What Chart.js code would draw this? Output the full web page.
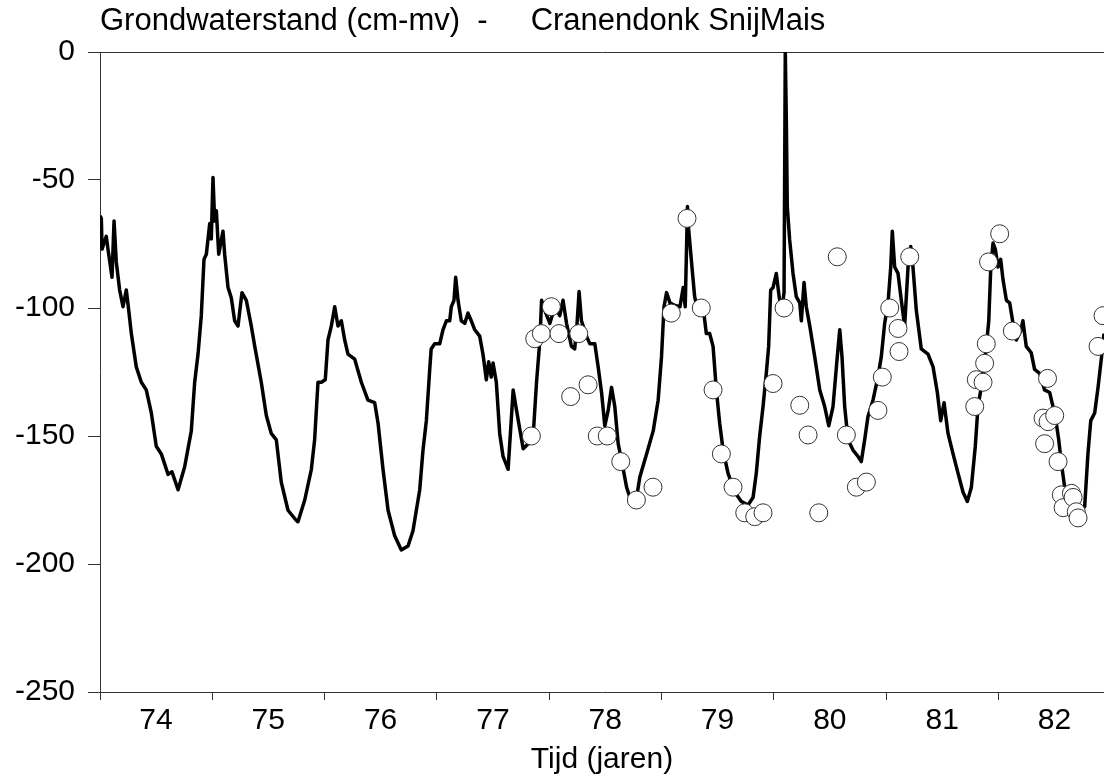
<!DOCTYPE html>
<html><head><meta charset="utf-8">
<script src="https://cdn.jsdelivr.net/npm/chart.js@4.4.1/dist/chart.umd.min.js"></script>
<style>html,body{margin:0;padding:0;background:#fff}#wrap{width:1104px;height:782px;position:relative}</style>
</head><body><div id="wrap"><canvas id="c"></canvas></div>
<script>
const titleText = 'Grondwaterstand (cm-mv)  -     Cranendonk SnijMais';
const xAxisTitle = 'Tijd (jaren)';
const yearTicks = [74, 75, 76, 77, 78, 79, 80, 81, 82];
const levelTicks = [-250, -200, -150, -100, -50, 0];

// simulated groundwater level (line)
const simYears = [74.0,74.012,74.018,74.056,74.071,74.107,74.125,74.145,74.175,74.205,74.234,74.256,74.279,74.323,74.368,74.412,74.457,74.501,74.546,74.606,74.641,74.695,74.754,74.813,74.843,74.873,74.902,74.926,74.947,74.977,74.991,75.006,75.021,75.036,75.057,75.095,75.110,75.140,75.169,75.199,75.229,75.264,75.303,75.347,75.378,75.436,75.481,75.525,75.570,75.614,75.674,75.748,75.763,75.823,75.882,75.911,75.941,75.971,76.006,76.030,76.060,76.090,76.119,76.149,76.179,76.208,76.268,76.327,76.386,76.446,76.476,76.520,76.565,76.624,76.683,76.743,76.787,76.847,76.876,76.906,76.936,76.949,76.980,77.025,77.054,77.084,77.114,77.128,77.152,77.167,77.188,77.217,77.248,77.277,77.306,77.337,77.381,77.410,77.440,77.461,77.484,77.500,77.529,77.559,77.589,77.634,77.679,77.709,77.768,77.813,77.857,77.887,77.917,77.932,77.961,78.006,78.050,78.094,78.123,78.154,78.198,78.227,78.248,78.266,78.287,78.332,78.362,78.406,78.436,78.466,78.495,78.525,78.555,78.584,78.614,78.659,78.689,78.733,78.778,78.807,78.867,78.926,78.970,79.000,79.022,79.045,79.075,79.119,79.164,79.193,79.211,79.231,79.242,79.265,79.295,79.325,79.370,79.399,79.429,79.459,79.488,79.518,79.548,79.592,79.652,79.711,79.770,79.815,79.844,79.874,79.904,79.933,79.954,79.972,79.993,80.022,80.043,80.067,80.091,80.102,80.111,80.120,80.141,80.171,80.200,80.231,80.245,80.269,80.289,80.320,80.364,80.409,80.453,80.489,80.527,80.565,80.587,80.607,80.631,80.661,80.705,80.750,80.779,80.809,80.838,80.883,80.927,80.957,80.987,81.017,81.041,81.055,81.076,81.106,81.135,81.165,81.195,81.219,81.239,81.269,81.313,81.373,81.418,81.456,81.486,81.516,81.551,81.596,81.640,81.685,81.723,81.759,81.794,81.818,81.863,81.892,81.914,81.932,81.952,81.972,81.996,82.020,82.041,82.071,82.100,82.130,82.159,82.198,82.218,82.248,82.292,82.322,82.367,82.411,82.456,82.486,82.515,82.537,82.560,82.590,82.634,82.679,82.724,82.768,82.797,82.822,82.857,82.887,82.921,82.940];
const simValues = [-64,-65,-77,-72,-77,-88,-66,-82,-93,-99.5,-93,-101,-110,-123,-129,-132,-141,-154,-157,-165,-164,-171,-162,-148,-129,-118,-103,-81,-79,-67,-73,-49,-66,-62,-79,-70,-79,-92,-96,-105,-107,-94,-97,-107,-115,-129,-142,-149,-151.5,-168,-179,-183,-183.5,-175,-163,-151.5,-129,-129,-128,-112.5,-107,-99.5,-107,-105,-112.5,-118,-120,-129,-136,-137,-145,-163,-179,-189,-194.5,-193,-187,-171,-155.5,-144,-124,-116,-114,-114,-108.5,-105,-105,-99.5,-97,-88,-97,-105,-106,-102,-105,-108.5,-111,-118,-128,-121,-127,-121.5,-129,-149,-158,-163,-132,-140,-155,-153,-150,-129,-112.5,-97,-101,-106,-99.5,-103,-97,-106,-115,-116,-106,-93.6,-105,-111,-114,-114,-123,-133,-146,-140,-131,-138.5,-153,-163,-170,-176,-174,-166,-157,-148,-136,-119,-99.5,-94,-98,-99,-99.5,-92,-99.5,-60.4,-69.5,-81,-95.6,-101,-99.5,-110,-110,-115,-132,-145,-155.5,-164.5,-172,-175.6,-177,-174,-164.5,-150,-138.5,-125.5,-115,-93,-92,-86.5,-94,-102,-94,0,-25,-60.4,-73.4,-86.5,-95.6,-98,-105,-90,-99.5,-107,-119,-132,-138.5,-146,-138.5,-119,-108.5,-119,-138.5,-151.5,-155.5,-158,-160,-151.5,-142.5,-136,-127,-119,-106,-98,-84,-70,-84,-86.5,-97,-107,-84,-76,-84,-101,-116,-118,-123,-133,-144,-137,-149,-157,-164.5,-172,-175.6,-170,-154,-138.5,-127,-115,-105,-84,-74.6,-77,-84,-81,-89,-97,-98,-106,-112.5,-109,-105,-115,-117.5,-124,-125.5,-132,-133,-138.5,-145,-151.5,-160.5,-170,-175,-177.6,-179,-177.6,-157,-144,-141,-131,-118,-110];

// observed levels (circles)
const obsYears = [77.841,77.871,77.930,78.019,78.087,78.191,78.263,78.346,78.428,78.517,78.637,78.776,78.924,79.087,79.227,79.354,79.459,79.533,79.637,79.741,79.830,79.904,79.993,80.091,80.231,80.305,80.400,80.565,80.646,80.735,80.824,80.927,80.966,81.032,81.106,81.115,81.210,81.789,81.803,81.863,81.877,81.892,81.912,82.011,82.124,82.397,82.411,82.437,82.442,82.501,82.531,82.560,82.576,82.650,82.665,82.693,82.709,82.887,82.931];
const obsValues = [-150,-112,-110,-99.5,-110,-134.6,-110,-130,-150,-150,-160,-175,-170,-102,-65,-100,-132,-157,-170,-180,-181.5,-180,-129.5,-100,-138,-149.6,-180,-80,-149.6,-170,-168,-140,-127,-100,-108,-117,-80,-138.5,-128,-129,-121.6,-114,-82,-71,-109,-143,-153,-127.5,-144.4,-142,-160,-173,-178,-172.4,-174,-179.6,-182,-115,-103];

const FONT = '"Liberation Sans", Arial, sans-serif';
const simData = simYears.map((x, i) => ({x, y: simValues[i]}));
const obsData = obsYears.map((x, i) => ({x, y: obsValues[i]}));

new Chart(document.getElementById('c'), {
  type: 'line',
  data: {
    datasets: [
      {type: 'scatter', data: obsData, order: 0, showLine: false,
       pointRadius: 9, pointHoverRadius: 9, pointBackgroundColor: '#fff',
       pointBorderColor: '#333', pointBorderWidth: 1},
      {type: 'line', data: simData, order: 1, borderColor: '#000', borderWidth: 3.5,
       borderJoinStyle: 'round', pointRadius: 0, tension: 0, fill: false}
    ]
  },
  options: {
    responsive: true, maintainAspectRatio: false, animation: false,
    layout: {padding: 0, autoPadding: false},
    plugins: {
      legend: {display: false}, tooltip: {enabled: false},
      title: {display: true, text: titleText, align: 'start', fullSize: false,
        color: '#000', font: {family: FONT, size: 31, weight: 'normal', lineHeight: 1.2},
        padding: {top: 2.4, bottom: 12.4}}
    },
    scales: {
      x: {type: 'linear', min: 74, max: 82.94,
        afterBuildTicks: s => { s.ticks = yearTicks.map(v => ({value: v})); },
        afterFit: s => { s.height = 90; s.paddingRight = 0; s.paddingLeft = 0; },
        border: {display: true, color: '#333', width: 1},
        grid: {display: true, drawOnChartArea: false, drawTicks: true, tickLength: 8, color: '#333'},
        ticks: {color: '#000', font: {family: FONT, size: 30}, padding: 3, labelOffset: 56,
          maxRotation: 0, autoSkip: false, callback: v => String(v)},
        title: {display: true, text: xAxisTitle, color: '#000',
          font: {family: FONT, size: 30}, padding: {top: 0, bottom: 4}}
      },
      y: {type: 'linear', min: -250, max: 0,
        afterBuildTicks: s => { s.ticks = levelTicks.map(v => ({value: v})); },
        afterFit: s => { s.width = 100; },
        border: {display: true, color: '#333', width: 1},
        grid: {display: true, drawOnChartArea: true, drawTicks: true, tickLength: 12,
          color: c => (c.tick && c.tick.value === 0) ? '#333' : 'rgba(0,0,0,0)', tickColor: '#333'},
        ticks: {color: '#000', font: {family: FONT, size: 30}, padding: 13, callback: v => String(v)}
      }
    }
  }
});
</script>
</body></html>
